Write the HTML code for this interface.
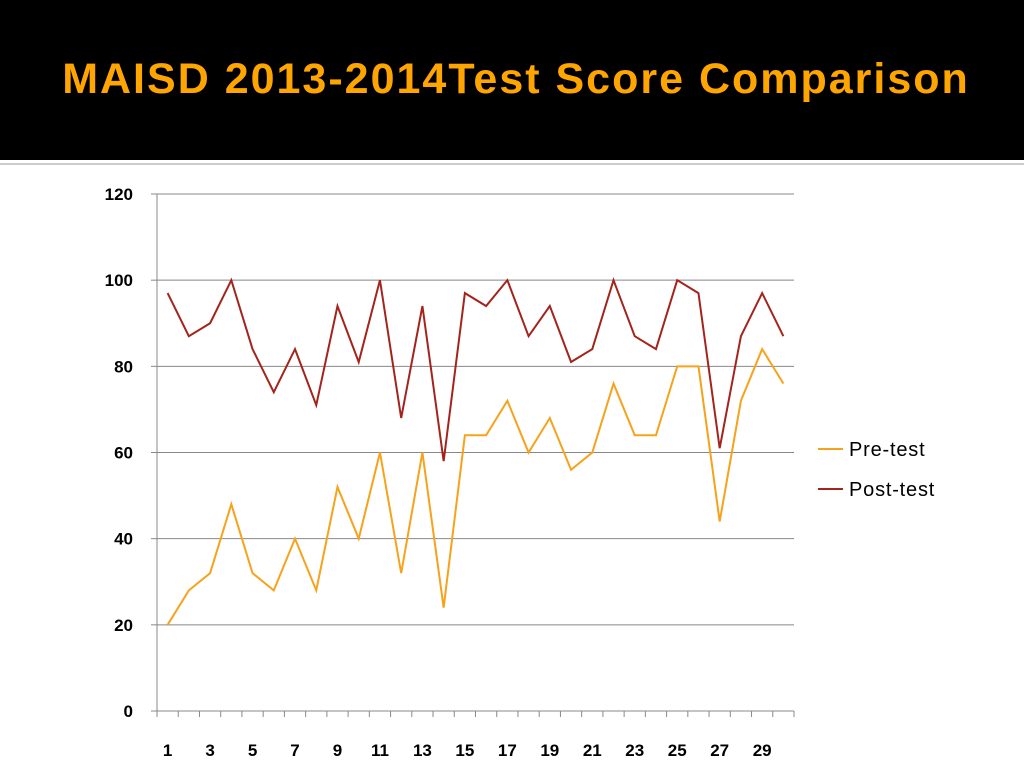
<!DOCTYPE html>
<html><head><meta charset="utf-8"><style>
body{margin:0;width:1024px;height:768px;background:#fff;overflow:hidden;font-family:"Liberation Sans",sans-serif}
#title-bar{position:absolute;left:0;top:0;width:1024px;height:160px;background:#000}
#title{position:absolute;left:0;width:1024px;top:55px;text-align:center;color:#FFA500;font-weight:bold;font-size:43px;letter-spacing:2px;padding-left:4px}
</style></head><body>
<div id="title-bar"><div id="title">MAISD 2013-2014Test Score Comparison</div></div>
<div style="position:absolute;left:0;top:163px;width:1024px;height:2px;background:#ccc"></div>
<svg id="chart" width="1024" height="768" style="position:absolute;left:0;top:0"></svg>
<script>
const categories=[1,2,3,4,5,6,7,8,9,10,11,12,13,14,15,16,17,18,19,20,21,22,23,24,25,26,27,28,29,30];
const preTest=[20,28,32,48,32,28,40,28,52,40,60,32,60,24,64,64,72,60,68,56,60,76,64,64,80,80,44,72,84,76];
const postTest=[97,87,90,100,84,74,84,71,94,81,100,68,94,58,97,94,100,87,94,81,84,100,87,84,100,97,61,87,97,87];
const yTicks=[0,20,40,60,80,100,120];
const NS="http://www.w3.org/2000/svg";
const svg=document.getElementById('chart');
const L=157,R=794,T=194,B=711,yMax=120;
const cw=(R-L)/categories.length;
const x=i=>L+cw*(i+0.5);
const y=v=>B-(v/yMax)*(B-T);
function mk(t,a){const e=document.createElementNS(NS,t);for(const k in a)e.setAttribute(k,a[k]);svg.appendChild(e);return e;}
yTicks.forEach(v=>{
 if(v>0){const g=mk('line',{x1:L,x2:R,y1:y(v),y2:y(v),stroke:'#888','stroke-width':1});
 
 }
 const t=mk('text',{x:133,y:y(v)+6,'text-anchor':'end','font-size':17,'font-weight':'bold',fill:'#000'});
 t.textContent=v;
 
 
 mk('line',{x1:L-6,x2:L,y1:y(v),y2:y(v),stroke:'#888'});
});
mk('line',{x1:L,x2:L,y1:T,y2:B,stroke:'#888'});
const ax=mk('line',{x1:L,x2:R,y1:B,y2:B,stroke:'#888'});


for(let i=0;i<=categories.length;i++)mk('line',{x1:L+cw*i,x2:L+cw*i,y1:B,y2:B+6,stroke:'#888'});
categories.forEach((c,i)=>{if(i%2===0){const t=mk('text',{x:x(i),y:756,'text-anchor':'middle','font-size':17,'font-weight':'bold',fill:'#000'});
 t.textContent=c;
 
 }});
function series(d,col,name){const p=mk('polyline',{points:d.map((v,i)=>x(i)+','+y(v)).join(' '),fill:'none',stroke:col,'stroke-width':2});
 
 }
series(preTest,'#F7A21B','pre-test-line');
series(postTest,'#A3241C','post-test-line');
[['Pre-test','#F7A21B',449],['Post-test','#A3241C',489]].forEach(([n,c,yy])=>{
 const l=mk('line',{x1:818,x2:843,y1:yy,y2:yy,stroke:c,'stroke-width':2});
 
 
 const t=mk('text',{x:849,y:yy+7,'font-size':20,fill:'#000','letter-spacing':'0.8'});
 t.textContent=n;
 
 
});
</script>
</body></html>
